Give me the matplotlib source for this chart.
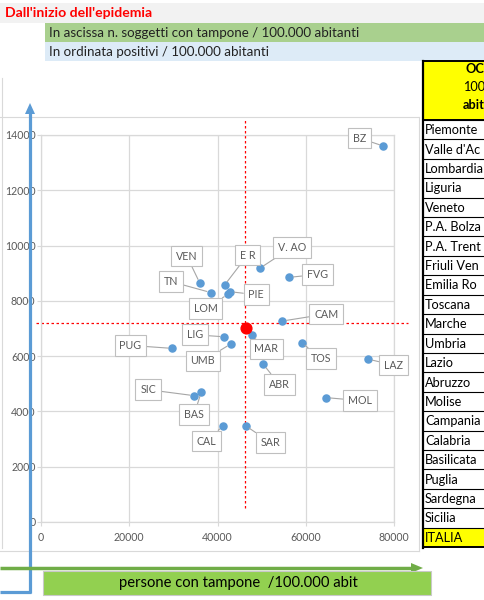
import matplotlib
matplotlib.use("Agg")
import matplotlib.pyplot as plt
from matplotlib.patches import Rectangle, Polygon

plt.rcParams['font.family'] = ['Lato', 'DejaVu Sans']

# ------------------------------
# dati
# ------------------------------
sigle = ["BZ", "V. AO", "FVG", "E R", "PIE", "VEN", "TN", "LOM", "CAM", "LIG", "UMB",
         "PUG", "MAR", "TOS", "LAZ", "ABR", "MOL", "SIC", "BAS", "CAL", "SAR"]
tamponi = [77600, 49600, 56300, 41600, 42900, 36000, 38500, 42300, 54700, 41500, 43000,
           29800, 47900, 59100, 74200, 50400, 64600, 34700, 36300, 41200, 46400]
positivi = [13600, 9180, 8850, 8570, 8330, 8640, 8300, 8230, 7270, 6700, 6440,
            6280, 6770, 6490, 5890, 5700, 4500, 4570, 4690, 3470, 3480]

italia_x = 46400
italia_y = 7030
media_x = 46200
media_y = 7200
linea_media_x = [-1100, 83200]
linea_media_y = [500, 14600]

xticks = [0, 20000, 40000, 60000, 80000]
yticks = [0, 2000, 4000, 6000, 8000, 10000, 12000, 14000]

# tabella a destra (testo visibile, la colonna e' tagliata dal bordo)
intestazione = ["OC", "100", "abit"]
regioni = ["Piemonte", "Valle d'Ac", "Lombardia", "Liguria", "Veneto", "P.A. Bolza",
           "P.A. Trent", "Friuli Ven", "Emilia Ro", "Toscana", "Marche",
           "Umbria", "Lazio", "Abruzzo", "Molise", "Campania", "Calabria", "Basilicata",
           "Puglia", "Sardegna", "Sicilia", "ITALIA"]

# spostamento etichette (pixel)
offset = {"BZ": (-24, 8), "V. AO": (32, 21), "FVG": (28, 3), "E R": (23, 30),
          "PIE": (26, -3), "VEN": (-13, 27), "TN": (-40, 11), "LOM": (-22, -14),
          "CAM": (44, 7), "LIG": (-29, 2), "UMB": (-28, -17), "PUG": (-42, 3),
          "MAR": (14, -14), "TOS": (19, -16), "LAZ": (25, -6), "ABR": (16, -20),
          "MOL": (34, -3), "SIC": (-46, 6), "BAS": (-7, -22), "CAL": (-16, -15),
          "SAR": (25, -17)}

W, H = 484, 600
fig = plt.figure(figsize=(4.84, 6.0), dpi=100)

# ------------------------------
# grafico a dispersione
# ------------------------------
ax = fig.add_axes([41 / W, (H - 522) / H, 353 / W, 387 / H])
ax.set_xlim(0, 80000)
ax.set_ylim(0, 14000)
ax.set_xticks(xticks)
ax.set_yticks(yticks)
ax.grid(True, color="#D9D9D9", lw=0.9)
ax.set_axisbelow(True)
for s in ax.spines.values():
    s.set_color("#D9D9D9")
    s.set_linewidth(0.9)
ax.tick_params(colors="#D9D9D9", labelcolor="#595959", labelsize=7.6, length=3, width=0.8)
ax.tick_params(axis="x", pad=4)
ax.tick_params(axis="y", pad=1)

ax.plot(linea_media_x, [media_y, media_y], color="red", lw=0.9, ls=(0, (2, 2)), clip_on=False)
ax.plot([media_x, media_x], linea_media_y, color="red", lw=0.9, ls=(0, (2, 2)), clip_on=False)

ax.scatter(tamponi, positivi, s=26, color="#5B9BD5", zorder=3, clip_on=False)
ax.scatter([italia_x], [italia_y], s=60, color="red", zorder=4)

for nome, xv, yv in zip(sigle, tamponi, positivi):
    ax.annotate(nome, (xv, yv), xytext=offset[nome], textcoords="offset pixels",
                ha="center", va="center", fontsize=7.7, color="#595959",
                bbox=dict(boxstyle="square,pad=0.45", fc="white", ec="#BFBFBF", lw=0.8),
                arrowprops=dict(arrowstyle="-", color="#A6A6A6", lw=0.8, shrinkA=0, shrinkB=3),
                zorder=5)

# ------------------------------
# foglio: intestazioni, cornici, frecce, tabella
# ------------------------------
ov = fig.add_axes([0, 0, 1, 1], zorder=10)
ov.set_xlim(0, W)
ov.set_ylim(H, 0)
ov.axis("off")
ov.patch.set_alpha(0)

ov.add_patch(Rectangle((0, 3), W, 20, fc="#F2F2F2", ec="none"))
ov.add_patch(Rectangle((45, 23), W - 45, 19, fc="#A9D08E", ec="none"))
ov.add_patch(Rectangle((45, 42), W - 45, 19, fc="#DDEBF7", ec="none"))
ov.text(5, 13, "Dall'inizio dell'epidemia", color="#FF0000", fontsize=10.1, fontweight="bold", va="center")
ov.text(49, 33, "In ascissa n. soggetti con tampone / 100.000 abitanti", fontsize=9.6, va="center", color="#222222")
ov.text(49, 51.5, "In ordinata positivi / 100.000 abitanti", fontsize=9.6, va="center", color="#222222")

# cornice del grafico
gr = "#D9D9D9"
ov.plot([1.5, 1.5], [78, 548], color=gr, lw=0.8)
ov.plot([0, 419], [117, 117], color=gr, lw=0.8)
ov.plot([419, 419], [117, 551], color=gr, lw=0.8)
ov.plot([0, 419], [551, 551], color=gr, lw=0.8)

# freccia blu (ordinata)
ov.plot([30, 30], [112, 593], color="#5B9BD5", lw=2.3, solid_capstyle="butt")
ov.plot([0, 31], [591.5, 591.5], color="#5B9BD5", lw=2.3, solid_capstyle="butt")
ov.add_patch(Polygon([(30, 103), (25, 114), (35, 114)], closed=True, fc="#5B9BD5", ec="none"))

# freccia verde (ascissa)
ov.plot([0, 412], [568, 568], color="#70AD47", lw=2.5, solid_capstyle="butt")
ov.add_patch(Polygon([(423, 568), (411, 563), (411, 573)], closed=True, fc="#70AD47", ec="none"))
ov.add_patch(Rectangle((43, 571), 388, 24, fc="#92D050", ec="#C9C9C9", lw=0.8))
ov.text(238, 583.5, "persone con tampone  /100.000 abit", fontsize=10.6, ha="center", va="center")

# tabella
ov.add_patch(Rectangle((423, 61), 70, 59, fc="#FFFF00", ec="black", lw=1.4))
ov.text(465, 69, intestazione[0], fontsize=9.2, fontweight="bold", va="center")
ov.text(463, 87, intestazione[1], fontsize=9.2, va="center")
ov.text(463, 105, intestazione[2], fontsize=9.2, fontweight="bold", va="center")
h = (547 - 120) / len(regioni)
for i, r in enumerate(regioni):
    y0 = 120 + i * h
    if r == "ITALIA":
        ov.add_patch(Rectangle((423, y0), 70, h, fc="#FFFF00", ec="none"))
    ov.plot([423, W], [y0, y0], color="black", lw=0.8)
    ov.text(425, y0 + h / 2 + 0.5, r, fontsize=9.2, va="center")
ov.plot([423, W], [547, 547], color="black", lw=1.4)
ov.plot([423, 423], [61, 547.5], color="black", lw=1.6)

fig.savefig("out.png", dpi=100)
